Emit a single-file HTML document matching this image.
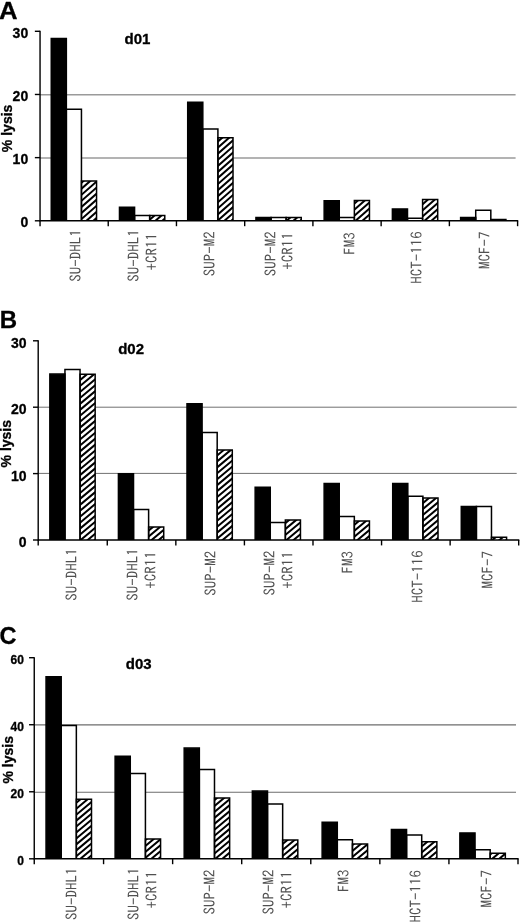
<!DOCTYPE html>
<html lang="en"><head><meta charset="utf-8"><title>lysis d01 d02 d03</title>
<style>
html,body{margin:0;padding:0;background:#fff}
body{width:520px;height:922px;overflow:hidden}
svg{display:block}
.b{font-family:"Liberation Sans",Arial,Helvetica,sans-serif;font-weight:bold;fill:#000;stroke:#000;stroke-width:0.3px}
.lab{font-family:"IPAGothic","Liberation Mono",monospace;font-size:15px;fill:#505050}
</style></head><body>
<svg width="520" height="922" viewBox="0 0 520 922">
<rect width="520" height="922" fill="#fff"/>

<g>
<text class="b" font-size="24" stroke="#000" stroke-width="0.5" transform="translate(-0.9,19.2) scale(1.07,1)">A</text>
<text class="b" x="124.6" y="44.2" font-size="15">d01</text>
<line x1="40.0" y1="157.90" x2="515.6" y2="157.90" stroke="#9a9a9a" stroke-width="1.5"/>
<line x1="40.0" y1="94.80" x2="515.6" y2="94.80" stroke="#9a9a9a" stroke-width="1.5"/>
<rect x="51.25" y="38.60" width="15.10" height="182.20" fill="#000"/>
<rect x="66.35" y="109.35" width="15.10" height="111.45" fill="#fff"/>
<rect x="81.45" y="181.00" width="15.10" height="39.80" fill="#fff"/>
<rect x="119.48" y="207.35" width="15.10" height="13.45" fill="#000"/>
<rect x="134.58" y="215.60" width="15.10" height="5.20" fill="#fff"/>
<rect x="149.68" y="215.60" width="15.10" height="5.20" fill="#fff"/>
<rect x="187.71" y="102.30" width="15.10" height="118.50" fill="#000"/>
<rect x="202.81" y="129.00" width="15.10" height="91.80" fill="#fff"/>
<rect x="217.91" y="137.80" width="15.10" height="83.00" fill="#fff"/>
<rect x="255.94" y="217.60" width="15.10" height="3.20" fill="#000"/>
<rect x="271.04" y="217.60" width="15.10" height="3.20" fill="#fff"/>
<rect x="286.14" y="217.60" width="15.10" height="3.20" fill="#fff"/>
<rect x="324.16" y="200.80" width="15.10" height="20.00" fill="#000"/>
<rect x="339.26" y="217.60" width="15.10" height="3.20" fill="#fff"/>
<rect x="354.36" y="200.60" width="15.10" height="20.20" fill="#fff"/>
<rect x="392.39" y="208.90" width="15.10" height="11.90" fill="#000"/>
<rect x="407.49" y="218.30" width="15.10" height="2.50" fill="#fff"/>
<rect x="422.59" y="199.40" width="15.10" height="21.40" fill="#fff"/>
<rect x="460.62" y="217.60" width="15.10" height="3.20" fill="#000"/>
<rect x="475.72" y="210.20" width="15.10" height="10.60" fill="#fff"/>
<rect x="490.82" y="219.60" width="15.10" height="1.20" fill="#fff"/>
<clipPath id="clipA"><rect x="81.45" y="181.00" width="15.10" height="39.80"/><rect x="149.68" y="215.60" width="15.10" height="5.20"/><rect x="217.91" y="137.80" width="15.10" height="83.00"/><rect x="286.14" y="217.60" width="15.10" height="3.20"/><rect x="354.36" y="200.60" width="15.10" height="20.20"/><rect x="422.59" y="199.40" width="15.10" height="21.40"/><rect x="490.82" y="219.60" width="15.10" height="1.20"/></clipPath>
<path clip-path="url(#clipA)" d="M40.0,24.90L519.6,-397.01M40.0,30.97L519.6,-390.94M40.0,37.04L519.6,-384.87M40.0,43.11L519.6,-378.80M40.0,49.18L519.6,-372.73M40.0,55.25L519.6,-366.66M40.0,61.32L519.6,-360.59M40.0,67.39L519.6,-354.52M40.0,73.46L519.6,-348.45M40.0,79.53L519.6,-342.38M40.0,85.60L519.6,-336.31M40.0,91.67L519.6,-330.24M40.0,97.74L519.6,-324.17M40.0,103.81L519.6,-318.10M40.0,109.88L519.6,-312.03M40.0,115.95L519.6,-305.96M40.0,122.02L519.6,-299.89M40.0,128.09L519.6,-293.82M40.0,134.16L519.6,-287.75M40.0,140.23L519.6,-281.68M40.0,146.30L519.6,-275.61M40.0,152.37L519.6,-269.54M40.0,158.44L519.6,-263.47M40.0,164.51L519.6,-257.40M40.0,170.58L519.6,-251.33M40.0,176.65L519.6,-245.26M40.0,182.72L519.6,-239.19M40.0,188.79L519.6,-233.12M40.0,194.86L519.6,-227.05M40.0,200.93L519.6,-220.98M40.0,207.00L519.6,-214.91M40.0,213.07L519.6,-208.84M40.0,219.14L519.6,-202.77M40.0,225.21L519.6,-196.70M40.0,231.28L519.6,-190.63M40.0,237.35L519.6,-184.56M40.0,243.42L519.6,-178.49M40.0,249.49L519.6,-172.42M40.0,255.56L519.6,-166.35M40.0,261.63L519.6,-160.28M40.0,267.70L519.6,-154.21M40.0,273.77L519.6,-148.14M40.0,279.84L519.6,-142.07M40.0,285.91L519.6,-136.00M40.0,291.98L519.6,-129.93M40.0,298.05L519.6,-123.86M40.0,304.12L519.6,-117.79M40.0,310.19L519.6,-111.72M40.0,316.26L519.6,-105.65M40.0,322.33L519.6,-99.58M40.0,328.40L519.6,-93.51M40.0,334.47L519.6,-87.44M40.0,340.54L519.6,-81.37M40.0,346.61L519.6,-75.30M40.0,352.68L519.6,-69.23M40.0,358.75L519.6,-63.16M40.0,364.82L519.6,-57.09M40.0,370.89L519.6,-51.02M40.0,376.96L519.6,-44.95M40.0,383.03L519.6,-38.88M40.0,389.10L519.6,-32.81M40.0,395.17L519.6,-26.74M40.0,401.24L519.6,-20.67M40.0,407.31L519.6,-14.60M40.0,413.38L519.6,-8.53M40.0,419.45L519.6,-2.46M40.0,425.52L519.6,3.61M40.0,431.59L519.6,9.68M40.0,437.66L519.6,15.75M40.0,443.73L519.6,21.82M40.0,449.80L519.6,27.89M40.0,455.87L519.6,33.96M40.0,461.94L519.6,40.03M40.0,468.01L519.6,46.10M40.0,474.08L519.6,52.17M40.0,480.15L519.6,58.24M40.0,486.22L519.6,64.31M40.0,492.29L519.6,70.38M40.0,498.36L519.6,76.45M40.0,504.43L519.6,82.52M40.0,510.50L519.6,88.59M40.0,516.57L519.6,94.66M40.0,522.64L519.6,100.73M40.0,528.71L519.6,106.80M40.0,534.78L519.6,112.87M40.0,540.85L519.6,118.94M40.0,546.92L519.6,125.01M40.0,552.99L519.6,131.08M40.0,559.06L519.6,137.15M40.0,565.13L519.6,143.22M40.0,571.20L519.6,149.29M40.0,577.27L519.6,155.36M40.0,583.34L519.6,161.43M40.0,589.41L519.6,167.50M40.0,595.48L519.6,173.57M40.0,601.55L519.6,179.64M40.0,607.62L519.6,185.71M40.0,613.69L519.6,191.78M40.0,619.76L519.6,197.85M40.0,625.83L519.6,203.92M40.0,631.90L519.6,209.99M40.0,637.97L519.6,216.06M40.0,644.04L519.6,222.13M40.0,650.11L519.6,228.20" stroke="#000" stroke-width="2.0" fill="none"/>
<path d="M51.25,220.80V38.60H66.35V220.80" fill="none" stroke="#000" stroke-width="1.5"/>
<path d="M66.35,220.80V109.35H81.45V220.80" fill="none" stroke="#000" stroke-width="1.5"/>
<path d="M81.45,220.80V181.00H96.55V220.80" fill="none" stroke="#000" stroke-width="1.5"/>
<path d="M119.48,220.80V207.35H134.58V220.80" fill="none" stroke="#000" stroke-width="1.5"/>
<path d="M134.58,220.80V215.60H149.68V220.80" fill="none" stroke="#000" stroke-width="1.5"/>
<path d="M149.68,220.80V215.60H164.78V220.80" fill="none" stroke="#000" stroke-width="1.5"/>
<path d="M187.71,220.80V102.30H202.81V220.80" fill="none" stroke="#000" stroke-width="1.5"/>
<path d="M202.81,220.80V129.00H217.91V220.80" fill="none" stroke="#000" stroke-width="1.5"/>
<path d="M217.91,220.80V137.80H233.01V220.80" fill="none" stroke="#000" stroke-width="1.5"/>
<path d="M255.94,220.80V217.60H271.04V220.80" fill="none" stroke="#000" stroke-width="1.5"/>
<path d="M271.04,220.80V217.60H286.14V220.80" fill="none" stroke="#000" stroke-width="1.5"/>
<path d="M286.14,220.80V217.60H301.24V220.80" fill="none" stroke="#000" stroke-width="1.5"/>
<path d="M324.16,220.80V200.80H339.26V220.80" fill="none" stroke="#000" stroke-width="1.5"/>
<path d="M339.26,220.80V217.60H354.36V220.80" fill="none" stroke="#000" stroke-width="1.5"/>
<path d="M354.36,220.80V200.60H369.46V220.80" fill="none" stroke="#000" stroke-width="1.5"/>
<path d="M392.39,220.80V208.90H407.49V220.80" fill="none" stroke="#000" stroke-width="1.5"/>
<path d="M407.49,220.80V218.30H422.59V220.80" fill="none" stroke="#000" stroke-width="1.5"/>
<path d="M422.59,220.80V199.40H437.69V220.80" fill="none" stroke="#000" stroke-width="1.5"/>
<path d="M460.62,220.80V217.60H475.72V220.80" fill="none" stroke="#000" stroke-width="1.5"/>
<path d="M475.72,220.80V210.20H490.82V220.80" fill="none" stroke="#000" stroke-width="1.5"/>
<path d="M490.82,220.80V219.60H505.92V220.80" fill="none" stroke="#000" stroke-width="1.5"/>
<path d="M40.05,30.80 V220.80 H518.20" stroke="#000" stroke-width="1.4" fill="none"/>
<line x1="34.85" y1="220.80" x2="40.05" y2="220.80" stroke="#000" stroke-width="1.4"/>
<text class="b" x="28.2" y="227.1" font-size="14" text-anchor="end">0</text>
<line x1="34.85" y1="157.63" x2="40.05" y2="157.63" stroke="#000" stroke-width="1.4"/>
<text class="b" x="28.2" y="163.9" font-size="14" text-anchor="end">10</text>
<line x1="34.85" y1="94.47" x2="40.05" y2="94.47" stroke="#000" stroke-width="1.4"/>
<text class="b" x="28.2" y="100.8" font-size="14" text-anchor="end">20</text>
<line x1="34.85" y1="31.30" x2="40.05" y2="31.30" stroke="#000" stroke-width="1.4"/>
<text class="b" x="28.2" y="37.6" font-size="14" text-anchor="end">30</text>
<line x1="40.05" y1="220.80" x2="40.05" y2="226.20" stroke="#000" stroke-width="1.4"/>
<line x1="108.23" y1="220.80" x2="108.23" y2="226.20" stroke="#000" stroke-width="1.4"/>
<line x1="176.46" y1="220.80" x2="176.46" y2="226.20" stroke="#000" stroke-width="1.4"/>
<line x1="244.69" y1="220.80" x2="244.69" y2="226.20" stroke="#000" stroke-width="1.4"/>
<line x1="312.91" y1="220.80" x2="312.91" y2="226.20" stroke="#000" stroke-width="1.4"/>
<line x1="381.14" y1="220.80" x2="381.14" y2="226.20" stroke="#000" stroke-width="1.4"/>
<line x1="449.37" y1="220.80" x2="449.37" y2="226.20" stroke="#000" stroke-width="1.4"/>
<line x1="517.60" y1="220.80" x2="517.60" y2="226.20" stroke="#000" stroke-width="1.4"/>
<text class="b" font-size="14" text-anchor="middle" transform="translate(11.5,128.4) rotate(-90)">% lysis</text>
<text class="lab" text-anchor="end" transform="translate(81.4,229.2) rotate(-90)">SU-DHL1</text>
<text class="lab" text-anchor="end" transform="translate(139.3,229.2) rotate(-90)">SU-DHL1</text>
<text class="lab" text-anchor="end" transform="translate(157.2,233.0) rotate(-90)">+CR11</text>
<text class="lab" text-anchor="end" transform="translate(215.4,231.3) rotate(-90)">SUP-M2</text>
<text class="lab" text-anchor="end" transform="translate(275.6,231.3) rotate(-90)">SUP-M2</text>
<text class="lab" text-anchor="end" transform="translate(292.7,232.2) rotate(-90)">+CR11</text>
<text class="lab" text-anchor="end" transform="translate(354.5,232.3) rotate(-90)">FM3</text>
<text class="lab" text-anchor="end" transform="translate(421.5,231.2) rotate(-90)">HCT-116</text>
<text class="lab" text-anchor="end" transform="translate(489.7,231.5) rotate(-90)">MCF-7</text>
</g>
<g>
<text class="b" font-size="24" stroke="#000" stroke-width="0.5" transform="translate(-0.2,328.1) scale(1.0,1)">B</text>
<text class="b" x="118.2" y="354.2" font-size="15">d02</text>
<line x1="38.7" y1="473.40" x2="516.7" y2="473.40" stroke="#707070" stroke-width="1.0"/>
<line x1="38.7" y1="407.20" x2="516.7" y2="407.20" stroke="#707070" stroke-width="1.0"/>
<rect x="49.85" y="374.10" width="15.10" height="165.90" fill="#000"/>
<rect x="64.95" y="369.50" width="15.10" height="170.50" fill="#fff"/>
<rect x="80.05" y="374.20" width="15.10" height="165.80" fill="#fff"/>
<rect x="118.42" y="473.80" width="15.10" height="66.20" fill="#000"/>
<rect x="133.52" y="509.60" width="15.10" height="30.40" fill="#fff"/>
<rect x="148.62" y="527.10" width="15.10" height="12.90" fill="#fff"/>
<rect x="186.99" y="403.80" width="15.10" height="136.20" fill="#000"/>
<rect x="202.09" y="432.40" width="15.10" height="107.60" fill="#fff"/>
<rect x="217.19" y="449.90" width="15.10" height="90.10" fill="#fff"/>
<rect x="255.16" y="487.30" width="15.10" height="52.70" fill="#000"/>
<rect x="270.26" y="522.60" width="15.10" height="17.40" fill="#fff"/>
<rect x="285.36" y="519.90" width="15.10" height="20.10" fill="#fff"/>
<rect x="324.14" y="483.60" width="15.10" height="56.40" fill="#000"/>
<rect x="339.24" y="516.40" width="15.10" height="23.60" fill="#fff"/>
<rect x="354.34" y="521.00" width="15.10" height="19.00" fill="#fff"/>
<rect x="392.71" y="483.60" width="15.10" height="56.40" fill="#000"/>
<rect x="407.81" y="496.20" width="15.10" height="43.80" fill="#fff"/>
<rect x="422.91" y="498.10" width="15.10" height="41.90" fill="#fff"/>
<rect x="461.28" y="506.60" width="15.10" height="33.40" fill="#000"/>
<rect x="476.38" y="506.60" width="15.10" height="33.40" fill="#fff"/>
<rect x="491.48" y="537.30" width="15.10" height="2.70" fill="#fff"/>
<clipPath id="clipB"><rect x="80.05" y="374.20" width="15.10" height="165.80"/><rect x="148.62" y="527.10" width="15.10" height="12.90"/><rect x="217.19" y="449.90" width="15.10" height="90.10"/><rect x="285.36" y="519.90" width="15.10" height="20.10"/><rect x="354.34" y="521.00" width="15.10" height="19.00"/><rect x="422.91" y="498.10" width="15.10" height="41.90"/><rect x="491.48" y="537.30" width="15.10" height="2.70"/></clipPath>
<path clip-path="url(#clipB)" d="M38.7,331.52L520.7,-71.73M38.7,337.46L520.7,-65.79M38.7,343.40L520.7,-59.85M38.7,349.34L520.7,-53.91M38.7,355.28L520.7,-47.97M38.7,361.22L520.7,-42.03M38.7,367.16L520.7,-36.09M38.7,373.10L520.7,-30.15M38.7,379.04L520.7,-24.21M38.7,384.98L520.7,-18.27M38.7,390.92L520.7,-12.33M38.7,396.86L520.7,-6.39M38.7,402.80L520.7,-0.45M38.7,408.74L520.7,5.49M38.7,414.68L520.7,11.43M38.7,420.62L520.7,17.37M38.7,426.56L520.7,23.31M38.7,432.50L520.7,29.25M38.7,438.44L520.7,35.19M38.7,444.38L520.7,41.13M38.7,450.32L520.7,47.07M38.7,456.26L520.7,53.01M38.7,462.20L520.7,58.95M38.7,468.14L520.7,64.89M38.7,474.08L520.7,70.83M38.7,480.02L520.7,76.77M38.7,485.96L520.7,82.71M38.7,491.90L520.7,88.65M38.7,497.84L520.7,94.59M38.7,503.78L520.7,100.53M38.7,509.72L520.7,106.47M38.7,515.66L520.7,112.41M38.7,521.60L520.7,118.35M38.7,527.54L520.7,124.29M38.7,533.48L520.7,130.23M38.7,539.42L520.7,136.17M38.7,545.36L520.7,142.11M38.7,551.30L520.7,148.05M38.7,557.24L520.7,153.99M38.7,563.18L520.7,159.93M38.7,569.12L520.7,165.87M38.7,575.06L520.7,171.81M38.7,581.00L520.7,177.75M38.7,586.94L520.7,183.69M38.7,592.88L520.7,189.63M38.7,598.82L520.7,195.57M38.7,604.76L520.7,201.51M38.7,610.70L520.7,207.45M38.7,616.64L520.7,213.39M38.7,622.58L520.7,219.33M38.7,628.52L520.7,225.27M38.7,634.46L520.7,231.21M38.7,640.40L520.7,237.15M38.7,646.34L520.7,243.09M38.7,652.28L520.7,249.03M38.7,658.22L520.7,254.97M38.7,664.16L520.7,260.91M38.7,670.10L520.7,266.85M38.7,676.04L520.7,272.79M38.7,681.98L520.7,278.73M38.7,687.92L520.7,284.67M38.7,693.86L520.7,290.61M38.7,699.80L520.7,296.55M38.7,705.74L520.7,302.49M38.7,711.68L520.7,308.43M38.7,717.62L520.7,314.37M38.7,723.56L520.7,320.31M38.7,729.50L520.7,326.25M38.7,735.44L520.7,332.19M38.7,741.38L520.7,338.13M38.7,747.32L520.7,344.07M38.7,753.26L520.7,350.01M38.7,759.20L520.7,355.95M38.7,765.14L520.7,361.89M38.7,771.08L520.7,367.83M38.7,777.02L520.7,373.77M38.7,782.96L520.7,379.71M38.7,788.90L520.7,385.65M38.7,794.84L520.7,391.59M38.7,800.78L520.7,397.53M38.7,806.72L520.7,403.47M38.7,812.66L520.7,409.41M38.7,818.60L520.7,415.35M38.7,824.54L520.7,421.29M38.7,830.48L520.7,427.23M38.7,836.42L520.7,433.17M38.7,842.36L520.7,439.11M38.7,848.30L520.7,445.05M38.7,854.24L520.7,450.99M38.7,860.18L520.7,456.93M38.7,866.12L520.7,462.87M38.7,872.06L520.7,468.81M38.7,878.00L520.7,474.75M38.7,883.94L520.7,480.69M38.7,889.88L520.7,486.63M38.7,895.82L520.7,492.57M38.7,901.76L520.7,498.51M38.7,907.70L520.7,504.45M38.7,913.64L520.7,510.39M38.7,919.58L520.7,516.33M38.7,925.52L520.7,522.27M38.7,931.46L520.7,528.21M38.7,937.40L520.7,534.15M38.7,943.34L520.7,540.09M38.7,949.28L520.7,546.03" stroke="#000" stroke-width="2.0" fill="none"/>
<path d="M49.85,540.00V374.10H64.95V540.00" fill="none" stroke="#000" stroke-width="1.5"/>
<path d="M64.95,540.00V369.50H80.05V540.00" fill="none" stroke="#000" stroke-width="1.5"/>
<path d="M80.05,540.00V374.20H95.15V540.00" fill="none" stroke="#000" stroke-width="1.5"/>
<path d="M118.42,540.00V473.80H133.52V540.00" fill="none" stroke="#000" stroke-width="1.5"/>
<path d="M133.52,540.00V509.60H148.62V540.00" fill="none" stroke="#000" stroke-width="1.5"/>
<path d="M148.62,540.00V527.10H163.72V540.00" fill="none" stroke="#000" stroke-width="1.5"/>
<path d="M186.99,540.00V403.80H202.09V540.00" fill="none" stroke="#000" stroke-width="1.5"/>
<path d="M202.09,540.00V432.40H217.19V540.00" fill="none" stroke="#000" stroke-width="1.5"/>
<path d="M217.19,540.00V449.90H232.29V540.00" fill="none" stroke="#000" stroke-width="1.5"/>
<path d="M255.16,540.00V487.30H270.26V540.00" fill="none" stroke="#000" stroke-width="1.5"/>
<path d="M270.26,540.00V522.60H285.36V540.00" fill="none" stroke="#000" stroke-width="1.5"/>
<path d="M285.36,540.00V519.90H300.46V540.00" fill="none" stroke="#000" stroke-width="1.5"/>
<path d="M324.14,540.00V483.60H339.24V540.00" fill="none" stroke="#000" stroke-width="1.5"/>
<path d="M339.24,540.00V516.40H354.34V540.00" fill="none" stroke="#000" stroke-width="1.5"/>
<path d="M354.34,540.00V521.00H369.44V540.00" fill="none" stroke="#000" stroke-width="1.5"/>
<path d="M392.71,540.00V483.60H407.81V540.00" fill="none" stroke="#000" stroke-width="1.5"/>
<path d="M407.81,540.00V496.20H422.91V540.00" fill="none" stroke="#000" stroke-width="1.5"/>
<path d="M422.91,540.00V498.10H438.01V540.00" fill="none" stroke="#000" stroke-width="1.5"/>
<path d="M461.28,540.00V506.60H476.38V540.00" fill="none" stroke="#000" stroke-width="1.5"/>
<path d="M476.38,540.00V506.60H491.48V540.00" fill="none" stroke="#000" stroke-width="1.5"/>
<path d="M491.48,540.00V537.30H506.58V540.00" fill="none" stroke="#000" stroke-width="1.5"/>
<path d="M38.20,340.30 V540.00 H519.30" stroke="#000" stroke-width="1.4" fill="none"/>
<line x1="33.00" y1="540.00" x2="38.20" y2="540.00" stroke="#000" stroke-width="1.4"/>
<text class="b" x="26.5" y="546.9" font-size="14" text-anchor="end">0</text>
<line x1="33.00" y1="473.60" x2="38.20" y2="473.60" stroke="#000" stroke-width="1.4"/>
<text class="b" x="26.5" y="480.5" font-size="14" text-anchor="end">10</text>
<line x1="33.00" y1="407.20" x2="38.20" y2="407.20" stroke="#000" stroke-width="1.4"/>
<text class="b" x="26.5" y="414.1" font-size="14" text-anchor="end">20</text>
<line x1="33.00" y1="340.80" x2="38.20" y2="340.80" stroke="#000" stroke-width="1.4"/>
<text class="b" x="26.5" y="347.7" font-size="14" text-anchor="end">30</text>
<line x1="38.20" y1="540.00" x2="38.20" y2="545.40" stroke="#000" stroke-width="1.4"/>
<line x1="107.27" y1="540.00" x2="107.27" y2="545.40" stroke="#000" stroke-width="1.4"/>
<line x1="175.84" y1="540.00" x2="175.84" y2="545.40" stroke="#000" stroke-width="1.4"/>
<line x1="244.41" y1="540.00" x2="244.41" y2="545.40" stroke="#000" stroke-width="1.4"/>
<line x1="312.99" y1="540.00" x2="312.99" y2="545.40" stroke="#000" stroke-width="1.4"/>
<line x1="381.56" y1="540.00" x2="381.56" y2="545.40" stroke="#000" stroke-width="1.4"/>
<line x1="450.13" y1="540.00" x2="450.13" y2="545.40" stroke="#000" stroke-width="1.4"/>
<line x1="518.70" y1="540.00" x2="518.70" y2="545.40" stroke="#000" stroke-width="1.4"/>
<text class="b" font-size="14" text-anchor="middle" transform="translate(11.3,443.7) rotate(-90)">% lysis</text>
<text class="lab" text-anchor="end" transform="translate(77.0,548.3) rotate(-90)">SU-DHL1</text>
<text class="lab" text-anchor="end" transform="translate(138.3,548.3) rotate(-90)">SU-DHL1</text>
<text class="lab" text-anchor="end" transform="translate(155.8,551.3) rotate(-90)">+CR11</text>
<text class="lab" text-anchor="end" transform="translate(216.3,550.8) rotate(-90)">SUP-M2</text>
<text class="lab" text-anchor="end" transform="translate(275.4,550.5) rotate(-90)">SUP-M2</text>
<text class="lab" text-anchor="end" transform="translate(293.1,551.3) rotate(-90)">+CR11</text>
<text class="lab" text-anchor="end" transform="translate(353.4,551.0) rotate(-90)">FM3</text>
<text class="lab" text-anchor="end" transform="translate(422.5,550.3) rotate(-90)">HCT-116</text>
<text class="lab" text-anchor="end" transform="translate(492.5,551.0) rotate(-90)">MCF-7</text>
</g>
<g>
<text class="b" font-size="24" stroke="#000" stroke-width="0.5" transform="translate(-0.4,644.4) scale(0.98,1)">C</text>
<text class="b" x="125.8" y="668.6" font-size="15">d03</text>
<line x1="34.5" y1="792.30" x2="516.0" y2="792.30" stroke="#6c6c6c" stroke-width="1.1"/>
<line x1="34.5" y1="724.90" x2="516.0" y2="724.90" stroke="#6c6c6c" stroke-width="1.1"/>
<rect x="46.05" y="676.80" width="15.15" height="182.00" fill="#000"/>
<rect x="61.20" y="725.40" width="15.15" height="133.40" fill="#fff"/>
<rect x="76.35" y="799.30" width="15.15" height="59.50" fill="#fff"/>
<rect x="115.12" y="756.20" width="15.15" height="102.60" fill="#000"/>
<rect x="130.27" y="773.60" width="15.15" height="85.20" fill="#fff"/>
<rect x="145.42" y="839.10" width="15.15" height="19.70" fill="#fff"/>
<rect x="184.19" y="748.10" width="15.15" height="110.70" fill="#000"/>
<rect x="199.34" y="769.60" width="15.15" height="89.20" fill="#fff"/>
<rect x="214.49" y="797.90" width="15.15" height="60.90" fill="#fff"/>
<rect x="252.36" y="791.10" width="15.15" height="67.70" fill="#000"/>
<rect x="267.51" y="804.10" width="15.15" height="54.70" fill="#fff"/>
<rect x="282.66" y="839.90" width="15.15" height="18.90" fill="#fff"/>
<rect x="322.14" y="822.30" width="15.15" height="36.50" fill="#000"/>
<rect x="337.29" y="839.80" width="15.15" height="19.00" fill="#fff"/>
<rect x="352.44" y="843.90" width="15.15" height="14.90" fill="#fff"/>
<rect x="391.41" y="829.60" width="15.15" height="29.20" fill="#000"/>
<rect x="406.56" y="835.00" width="15.15" height="23.80" fill="#fff"/>
<rect x="421.71" y="841.70" width="15.15" height="17.10" fill="#fff"/>
<rect x="459.88" y="832.90" width="15.15" height="25.90" fill="#000"/>
<rect x="475.03" y="849.80" width="15.15" height="9.00" fill="#fff"/>
<rect x="490.18" y="853.30" width="15.15" height="5.50" fill="#fff"/>
<clipPath id="clipC"><rect x="76.35" y="799.30" width="15.15" height="59.50"/><rect x="145.42" y="839.10" width="15.15" height="19.70"/><rect x="214.49" y="797.90" width="15.15" height="60.90"/><rect x="282.66" y="839.90" width="15.15" height="18.90"/><rect x="352.44" y="843.90" width="15.15" height="14.90"/><rect x="421.71" y="841.70" width="15.15" height="17.10"/><rect x="490.18" y="853.30" width="15.15" height="5.50"/></clipPath>
<path clip-path="url(#clipC)" d="M34.5,647.70L520.0,241.52M34.5,653.64L520.0,247.46M34.5,659.58L520.0,253.40M34.5,665.52L520.0,259.34M34.5,671.46L520.0,265.28M34.5,677.40L520.0,271.22M34.5,683.34L520.0,277.16M34.5,689.28L520.0,283.10M34.5,695.22L520.0,289.04M34.5,701.16L520.0,294.98M34.5,707.10L520.0,300.92M34.5,713.04L520.0,306.86M34.5,718.98L520.0,312.80M34.5,724.92L520.0,318.74M34.5,730.86L520.0,324.68M34.5,736.80L520.0,330.62M34.5,742.74L520.0,336.56M34.5,748.68L520.0,342.50M34.5,754.62L520.0,348.44M34.5,760.56L520.0,354.38M34.5,766.50L520.0,360.32M34.5,772.44L520.0,366.26M34.5,778.38L520.0,372.20M34.5,784.32L520.0,378.14M34.5,790.26L520.0,384.08M34.5,796.20L520.0,390.02M34.5,802.14L520.0,395.96M34.5,808.08L520.0,401.90M34.5,814.02L520.0,407.84M34.5,819.96L520.0,413.78M34.5,825.90L520.0,419.72M34.5,831.84L520.0,425.66M34.5,837.78L520.0,431.60M34.5,843.72L520.0,437.54M34.5,849.66L520.0,443.48M34.5,855.60L520.0,449.42M34.5,861.54L520.0,455.36M34.5,867.48L520.0,461.30M34.5,873.42L520.0,467.24M34.5,879.36L520.0,473.18M34.5,885.30L520.0,479.12M34.5,891.24L520.0,485.06M34.5,897.18L520.0,491.00M34.5,903.12L520.0,496.94M34.5,909.06L520.0,502.88M34.5,915.00L520.0,508.82M34.5,920.94L520.0,514.76M34.5,926.88L520.0,520.70M34.5,932.82L520.0,526.64M34.5,938.76L520.0,532.58M34.5,944.70L520.0,538.52M34.5,950.64L520.0,544.46M34.5,956.58L520.0,550.40M34.5,962.52L520.0,556.34M34.5,968.46L520.0,562.28M34.5,974.40L520.0,568.22M34.5,980.34L520.0,574.16M34.5,986.28L520.0,580.10M34.5,992.22L520.0,586.04M34.5,998.16L520.0,591.98M34.5,1004.10L520.0,597.92M34.5,1010.04L520.0,603.86M34.5,1015.98L520.0,609.80M34.5,1021.92L520.0,615.74M34.5,1027.86L520.0,621.68M34.5,1033.80L520.0,627.62M34.5,1039.74L520.0,633.56M34.5,1045.68L520.0,639.50M34.5,1051.62L520.0,645.44M34.5,1057.56L520.0,651.38M34.5,1063.50L520.0,657.32M34.5,1069.44L520.0,663.26M34.5,1075.38L520.0,669.20M34.5,1081.32L520.0,675.14M34.5,1087.26L520.0,681.08M34.5,1093.20L520.0,687.02M34.5,1099.14L520.0,692.96M34.5,1105.08L520.0,698.90M34.5,1111.02L520.0,704.84M34.5,1116.96L520.0,710.78M34.5,1122.90L520.0,716.72M34.5,1128.84L520.0,722.66M34.5,1134.78L520.0,728.60M34.5,1140.72L520.0,734.54M34.5,1146.66L520.0,740.48M34.5,1152.60L520.0,746.42M34.5,1158.54L520.0,752.36M34.5,1164.48L520.0,758.30M34.5,1170.42L520.0,764.24M34.5,1176.36L520.0,770.18M34.5,1182.30L520.0,776.12M34.5,1188.24L520.0,782.06M34.5,1194.18L520.0,788.00M34.5,1200.12L520.0,793.94M34.5,1206.06L520.0,799.88M34.5,1212.00L520.0,805.82M34.5,1217.94L520.0,811.76M34.5,1223.88L520.0,817.70M34.5,1229.82L520.0,823.64M34.5,1235.76L520.0,829.58M34.5,1241.70L520.0,835.52M34.5,1247.64L520.0,841.46M34.5,1253.58L520.0,847.40M34.5,1259.52L520.0,853.34M34.5,1265.46L520.0,859.28M34.5,1271.40L520.0,865.22" stroke="#000" stroke-width="2.0" fill="none"/>
<path d="M46.05,858.80V676.80H61.20V858.80" fill="none" stroke="#000" stroke-width="1.5"/>
<path d="M61.20,858.80V725.40H76.35V858.80" fill="none" stroke="#000" stroke-width="1.5"/>
<path d="M76.35,858.80V799.30H91.50V858.80" fill="none" stroke="#000" stroke-width="1.5"/>
<path d="M115.12,858.80V756.20H130.27V858.80" fill="none" stroke="#000" stroke-width="1.5"/>
<path d="M130.27,858.80V773.60H145.42V858.80" fill="none" stroke="#000" stroke-width="1.5"/>
<path d="M145.42,858.80V839.10H160.57V858.80" fill="none" stroke="#000" stroke-width="1.5"/>
<path d="M184.19,858.80V748.10H199.34V858.80" fill="none" stroke="#000" stroke-width="1.5"/>
<path d="M199.34,858.80V769.60H214.49V858.80" fill="none" stroke="#000" stroke-width="1.5"/>
<path d="M214.49,858.80V797.90H229.64V858.80" fill="none" stroke="#000" stroke-width="1.5"/>
<path d="M252.36,858.80V791.10H267.51V858.80" fill="none" stroke="#000" stroke-width="1.5"/>
<path d="M267.51,858.80V804.10H282.66V858.80" fill="none" stroke="#000" stroke-width="1.5"/>
<path d="M282.66,858.80V839.90H297.81V858.80" fill="none" stroke="#000" stroke-width="1.5"/>
<path d="M322.14,858.80V822.30H337.29V858.80" fill="none" stroke="#000" stroke-width="1.5"/>
<path d="M337.29,858.80V839.80H352.44V858.80" fill="none" stroke="#000" stroke-width="1.5"/>
<path d="M352.44,858.80V843.90H367.59V858.80" fill="none" stroke="#000" stroke-width="1.5"/>
<path d="M391.41,858.80V829.60H406.56V858.80" fill="none" stroke="#000" stroke-width="1.5"/>
<path d="M406.56,858.80V835.00H421.71V858.80" fill="none" stroke="#000" stroke-width="1.5"/>
<path d="M421.71,858.80V841.70H436.86V858.80" fill="none" stroke="#000" stroke-width="1.5"/>
<path d="M459.88,858.80V832.90H475.03V858.80" fill="none" stroke="#000" stroke-width="1.5"/>
<path d="M475.03,858.80V849.80H490.18V858.80" fill="none" stroke="#000" stroke-width="1.5"/>
<path d="M490.18,858.80V853.30H505.33V858.80" fill="none" stroke="#000" stroke-width="1.5"/>
<path d="M34.25,657.20 V858.80 H518.60" stroke="#000" stroke-width="1.4" fill="none"/>
<line x1="29.05" y1="858.80" x2="34.25" y2="858.80" stroke="#000" stroke-width="1.4"/>
<text class="b" x="23.9" y="865.0" font-size="12" text-anchor="end">0</text>
<line x1="29.05" y1="791.77" x2="34.25" y2="791.77" stroke="#000" stroke-width="1.4"/>
<text class="b" x="23.9" y="798.0" font-size="12" text-anchor="end">20</text>
<line x1="29.05" y1="724.73" x2="34.25" y2="724.73" stroke="#000" stroke-width="1.4"/>
<text class="b" x="23.9" y="730.9" font-size="12" text-anchor="end">40</text>
<line x1="29.05" y1="657.70" x2="34.25" y2="657.70" stroke="#000" stroke-width="1.4"/>
<text class="b" x="23.9" y="663.9" font-size="12" text-anchor="end">60</text>
<line x1="34.25" y1="858.80" x2="34.25" y2="864.20" stroke="#000" stroke-width="1.4"/>
<line x1="103.57" y1="858.80" x2="103.57" y2="864.20" stroke="#000" stroke-width="1.4"/>
<line x1="172.64" y1="858.80" x2="172.64" y2="864.20" stroke="#000" stroke-width="1.4"/>
<line x1="241.71" y1="858.80" x2="241.71" y2="864.20" stroke="#000" stroke-width="1.4"/>
<line x1="310.79" y1="858.80" x2="310.79" y2="864.20" stroke="#000" stroke-width="1.4"/>
<line x1="379.86" y1="858.80" x2="379.86" y2="864.20" stroke="#000" stroke-width="1.4"/>
<line x1="448.93" y1="858.80" x2="448.93" y2="864.20" stroke="#000" stroke-width="1.4"/>
<line x1="518.00" y1="858.80" x2="518.00" y2="864.20" stroke="#000" stroke-width="1.4"/>
<text class="b" font-size="14" text-anchor="middle" transform="translate(12.8,759.8) rotate(-90)">% lysis</text>
<text class="lab" text-anchor="end" transform="translate(77.3,867.5) rotate(-90)">SU-DHL1</text>
<text class="lab" text-anchor="end" transform="translate(139.4,867.5) rotate(-90)">SU-DHL1</text>
<text class="lab" text-anchor="end" transform="translate(157.4,871.0) rotate(-90)">+CR11</text>
<text class="lab" text-anchor="end" transform="translate(215.1,869.5) rotate(-90)">SUP-M2</text>
<text class="lab" text-anchor="end" transform="translate(273.9,869.5) rotate(-90)">SUP-M2</text>
<text class="lab" text-anchor="end" transform="translate(292.0,871.0) rotate(-90)">+CR11</text>
<text class="lab" text-anchor="end" transform="translate(349.4,869.5) rotate(-90)">FM3</text>
<text class="lab" text-anchor="end" transform="translate(421.1,870.0) rotate(-90)">HCT-116</text>
<text class="lab" text-anchor="end" transform="translate(491.9,870.0) rotate(-90)">MCF-7</text>
</g>
</svg>
</body></html>
